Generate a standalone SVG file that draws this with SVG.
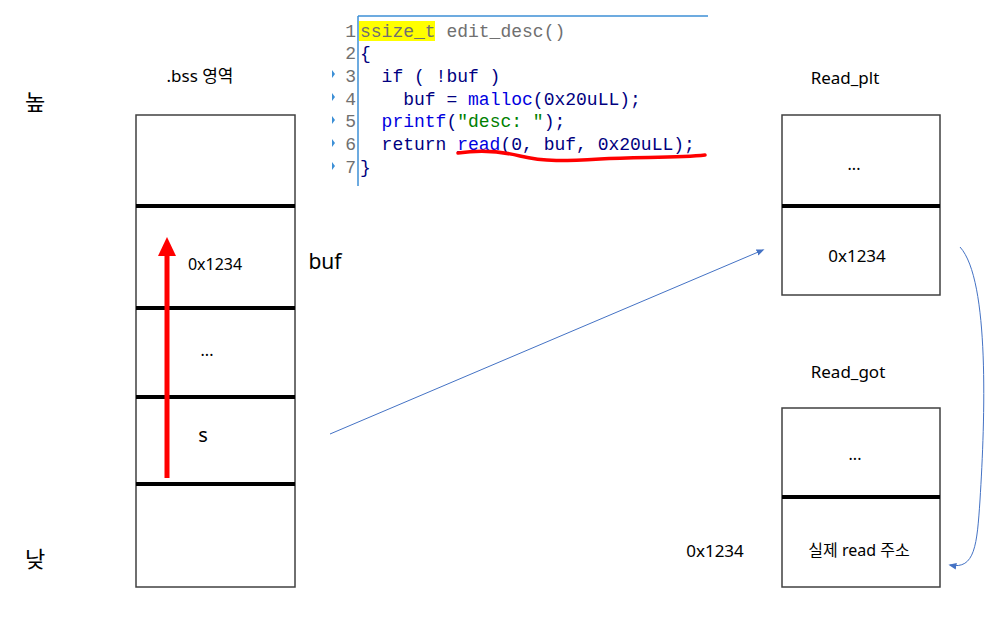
<svg xmlns="http://www.w3.org/2000/svg" width="1008" height="619" viewBox="0 0 1008 619">
<defs>
<style>
.t{font-family:"Noto Sans","Noto Sans CJK KR",sans-serif;fill:#000;text-anchor:middle}
.box{fill:#fff;stroke:#404040;stroke-width:1.5}
.div{stroke:#000;stroke-width:4}
.code{font-family:"Liberation Mono","DejaVu Sans Mono",monospace;font-size:18px}
.ln{font-family:"Liberation Mono",monospace;font-size:18px;fill:#707070;text-anchor:end}
</style>
<marker id="ab" viewBox="0 0 10 10" refX="8" refY="5" markerWidth="8" markerHeight="8" orient="auto-start-reverse" markerUnits="userSpaceOnUse"><path d="M0,1 L10,5 L0,9 Z" fill="#4472c4"/></marker>
</defs>
<rect width="1008" height="619" fill="#fff"/>

<text class="t" x="35" y="110" font-size="22">높</text>
<text class="t" x="35" y="567" font-size="22">낮</text>

<g id="bss">
<text class="t" x="200" y="82" font-size="17">.bss 영역</text>
<rect class="box" x="136" y="115" width="159" height="472"/>
<line class="div" x1="136" y1="206" x2="295" y2="206"/>
<line class="div" x1="136" y1="308" x2="295" y2="308"/>
<line class="div" x1="136" y1="397" x2="295" y2="397"/>
<line class="div" x1="136" y1="484" x2="295" y2="484"/>
<text class="t" x="215" y="270" font-size="16">0x1234</text>
<text class="t" x="207" y="356" font-size="16">...</text>
<text class="t" x="203" y="442" font-size="20">s</text>
<text class="t" x="325" y="269" font-size="21">buf</text>
<line x1="167" y1="478" x2="167" y2="254" stroke="#f00" stroke-width="5"/>
<polygon points="167,237 158,256 176,256" fill="#f00"/>
</g>

<g id="code">
<line x1="358" y1="16" x2="708" y2="16" stroke="#3c8fd6" stroke-width="1.5"/>
<line x1="358" y1="16" x2="358" y2="186" stroke="#3c8fd6" stroke-width="1.5"/>
<rect x="359" y="21" width="76" height="20" fill="#ffff00"/>
<g fill="#3c8fd6">
<polygon points="332,70 335,74 332,78"/>
<polygon points="332,93 335,97 332,101"/>
<polygon points="332,116 335,120 332,124"/>
<polygon points="332,139 335,143 332,147"/>
<polygon points="332,162 335,166 332,170"/>
</g>
<text class="ln" x="356" y="37">1</text>
<text class="ln" x="356" y="59">2</text>
<text class="ln" x="356" y="82">3</text>
<text class="ln" x="356" y="105">4</text>
<text class="ln" x="356" y="127">5</text>
<text class="ln" x="356" y="150">6</text>
<text class="ln" x="356" y="173">7</text>
<text class="code" x="360" y="37" fill="#707070">ssize_t edit_desc()</text>
<text class="code" x="360" y="59" fill="#000080">{</text>
<text class="code" x="360" y="82" fill="#000080" xml:space="preserve">  if ( !buf )</text>
<text class="code" x="360" y="105" fill="#000080" xml:space="preserve">    buf = <tspan fill="#0000e0">malloc</tspan>(0x20uLL);</text>
<text class="code" x="360" y="127" fill="#000080" xml:space="preserve">  <tspan fill="#0000e0">printf</tspan>(<tspan fill="#008000">"desc: "</tspan>);</text>
<text class="code" x="360" y="150" fill="#000080" xml:space="preserve">  return <tspan fill="#0000e0" text-decoration="underline">read</tspan>(0, buf, 0x20uLL);</text>
<text class="code" x="360" y="173" fill="#000080">}</text>
<path d="M458,153 C480,150 500,151 520,156 C545,162 565,161 600,159 C640,157 680,158 705,155" fill="none" stroke="#f00" stroke-width="3.5" stroke-linecap="round"/>
</g>

<g id="plt">
<text class="t" x="845" y="84" font-size="17">Read_plt</text>
<rect class="box" x="782" y="115" width="158" height="180"/>
<line class="div" x1="782" y1="206" x2="940" y2="206"/>
<text class="t" x="854" y="170" font-size="16">...</text>
<text class="t" x="857" y="262" font-size="17">0x1234</text>
</g>

<g id="got">
<text class="t" x="848" y="378" font-size="17">Read_got</text>
<rect class="box" x="782" y="408" width="158" height="179"/>
<line class="div" x1="782" y1="497" x2="940" y2="497"/>
<text class="t" x="855" y="460" font-size="16">...</text>
<text class="t" x="859" y="556" font-size="16">실제 read 주소</text>
<text class="t" x="715" y="557" font-size="17">0x1234</text>
</g>

<g id="connectors" fill="none" stroke="#4472c4" stroke-width="1">
<line x1="330" y1="434" x2="763" y2="250" marker-end="url(#ab)"/>
<path d="M960,247 C990,280 985,420 980,500 C977,545 975,570 950,565" marker-end="url(#ab)"/>
</g>
</svg>
